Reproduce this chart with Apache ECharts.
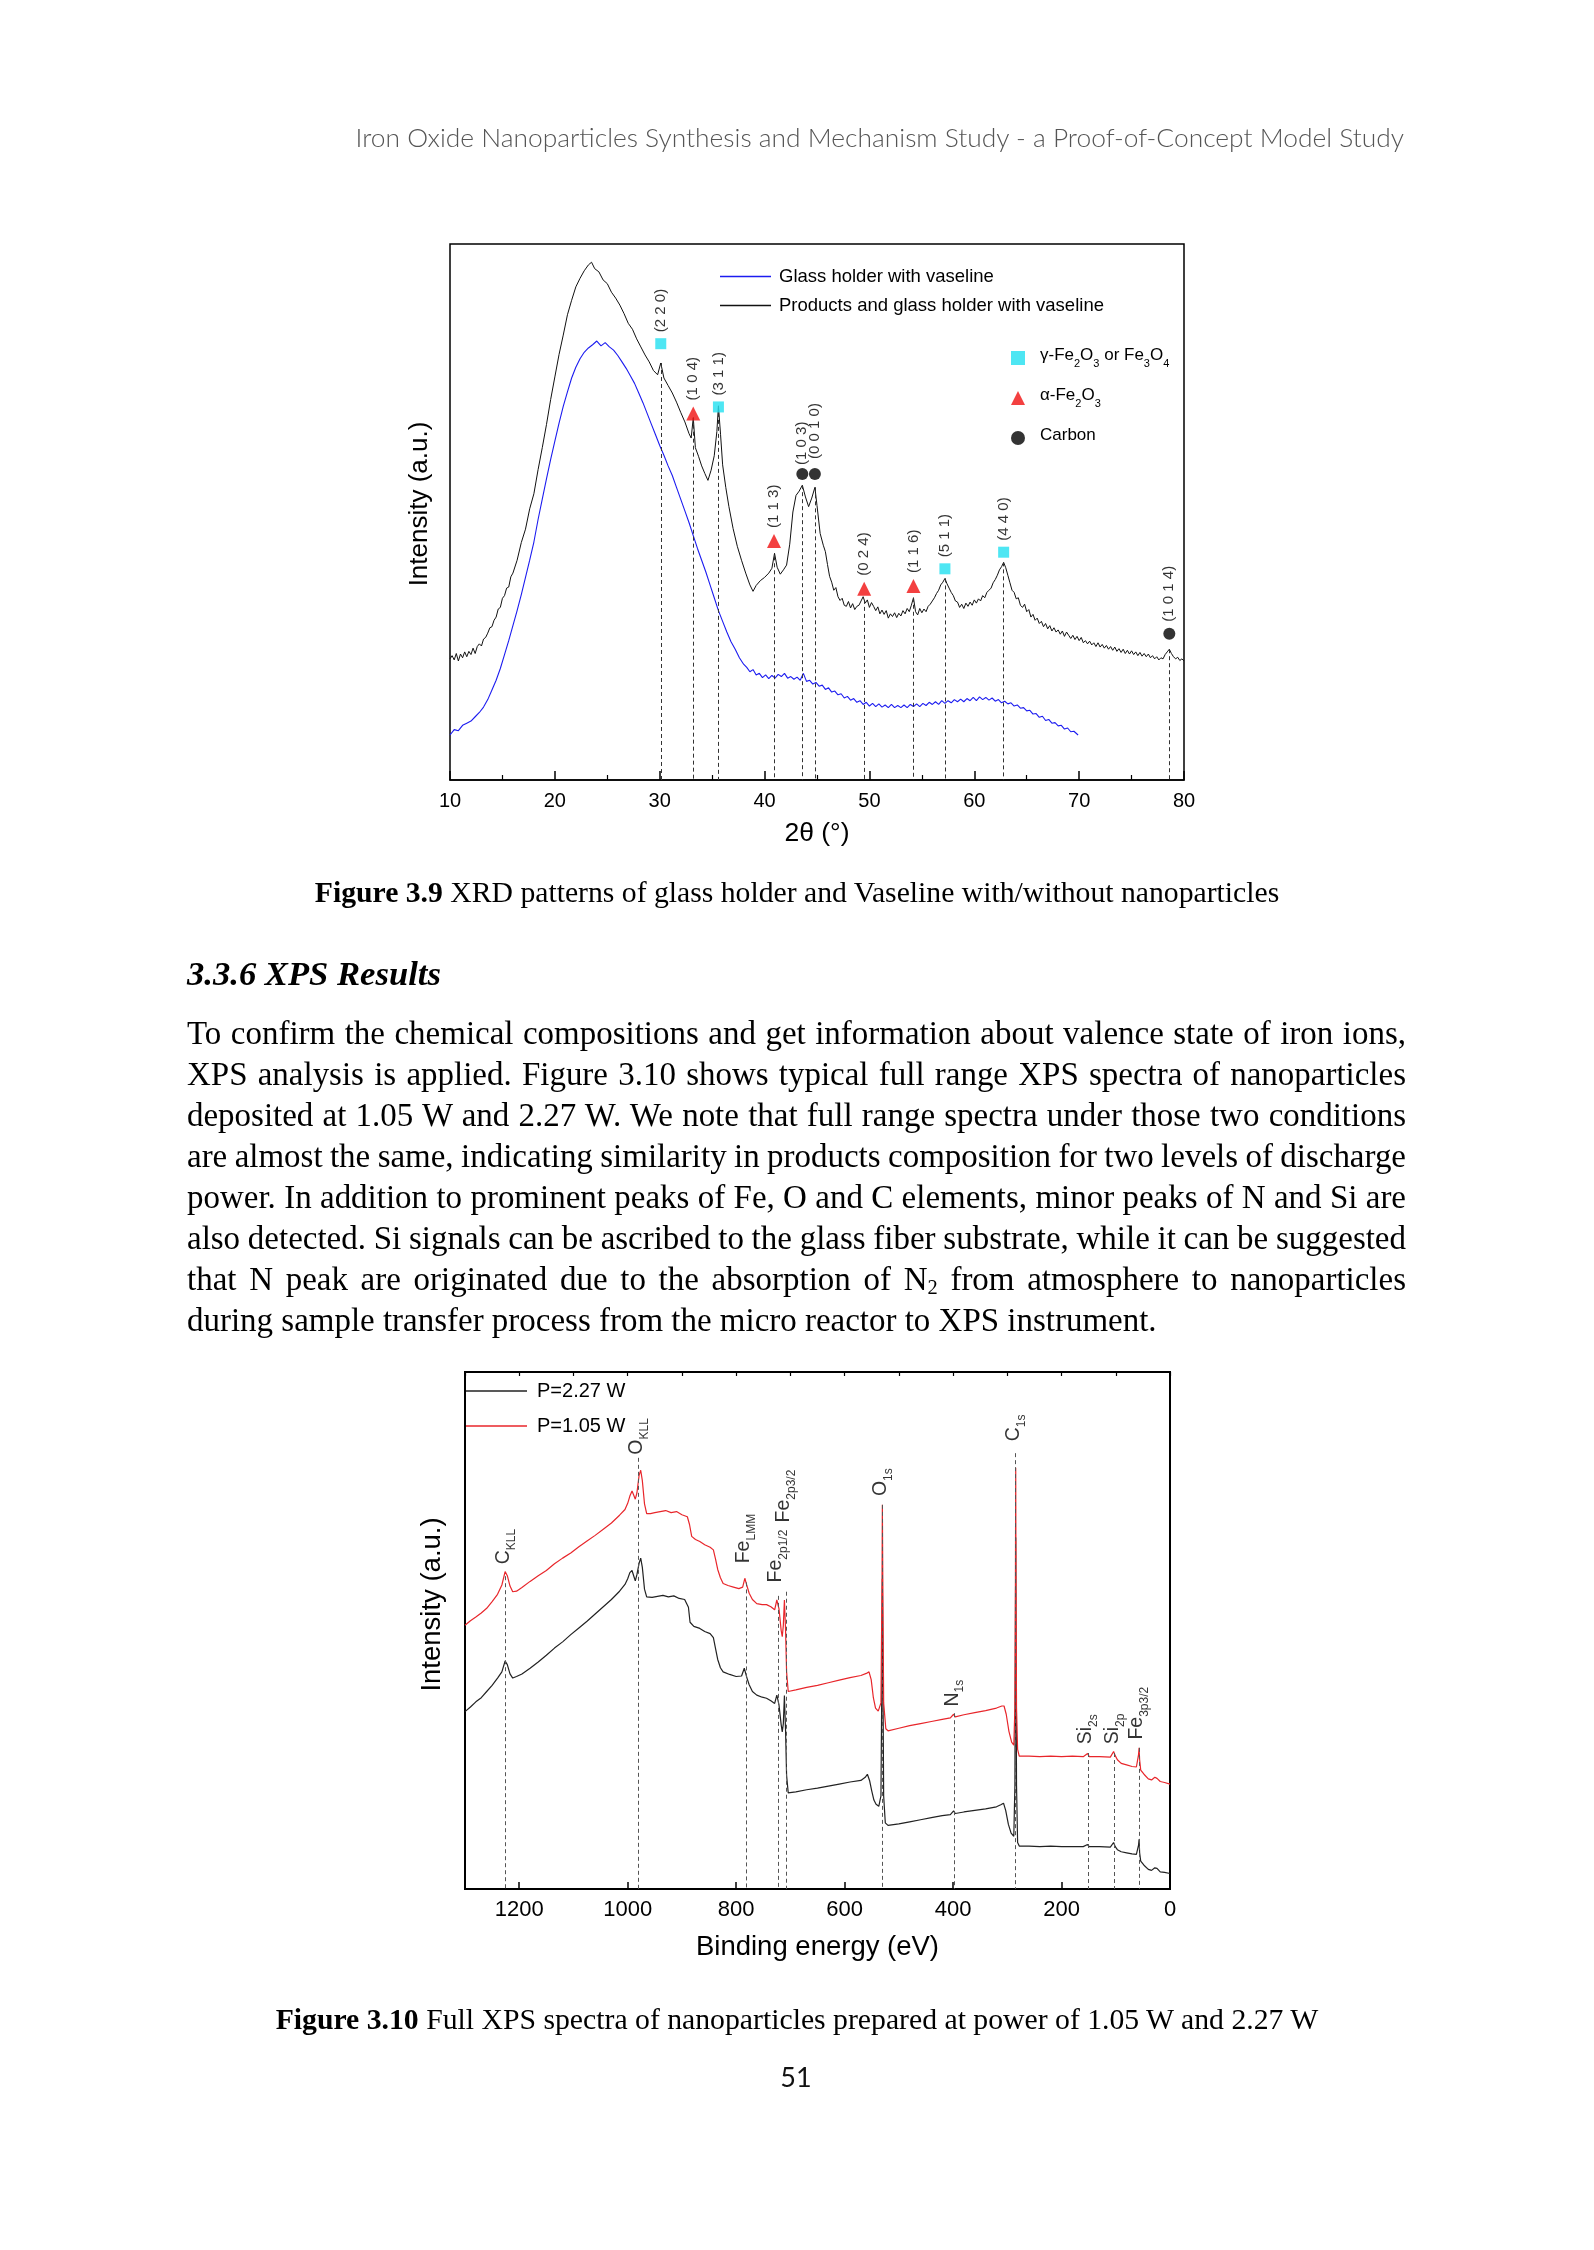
<!DOCTYPE html>
<html><head><meta charset="utf-8">
<script src="https://cdn.jsdelivr.net/npm/echarts@6/dist/echarts.min.js"></script>
<style>
html,body{margin:0;padding:0;background:#fff;}
#page{position:relative;width:1594px;height:2250px;overflow:hidden;background:#fff;}
#chart{position:absolute;left:0;top:0;width:1594px;height:2250px;}
.t{position:absolute;white-space:nowrap;line-height:1;display:inline-block;}
.serif{font-family:"Liberation Serif","Times New Roman",serif;color:#000;}
.bm{display:inline-block;width:0;height:0;vertical-align:baseline;}
sub{font-size:0.62em;vertical-align:-0.22em;line-height:0;}
</style></head>
<body><div id="page">
<div id="chart"></div>
<div class="t" id="hdr" style="font-family:Lato,'Open Sans',sans-serif;font-weight:300;color:#555;font-size:23px;">Iron Oxide Nanoparticles Synthesis and Mechanism Study - a Proof-of-Concept Model Study</div>
<div class="t serif" id="cap1" style="font-size:28px;"><b>Figure 3.9</b> XRD patterns of glass holder and Vaseline with/without nanoparticles</div>
<div class="t serif" id="head" style="font-size:32px;font-weight:bold;font-style:italic;">3.3.6 XPS Results</div>
<div class="t serif pl" style="font-size:28px;">To confirm the chemical compositions and get information about valence state of iron ions,</div>
<div class="t serif pl" style="font-size:28px;">XPS analysis is applied. Figure 3.10 shows typical full range XPS spectra of nanoparticles</div>
<div class="t serif pl" style="font-size:28px;">deposited at 1.05 W and 2.27 W. We note that full range spectra under those two conditions</div>
<div class="t serif pl" style="font-size:28px;">are almost the same, indicating similarity in products composition for two levels of discharge</div>
<div class="t serif pl" style="font-size:28px;">power. In addition to prominent peaks of Fe, O and C elements, minor peaks of N and Si are</div>
<div class="t serif pl" style="font-size:28px;">also detected. Si signals can be ascribed to the glass fiber substrate, while it can be suggested</div>
<div class="t serif pl" style="font-size:28px;">that N peak are originated due to the absorption of N<sub>2</sub> from atmosphere to nanoparticles</div>
<div class="t serif pl" style="font-size:28px;">during sample transfer process from the micro reactor to XPS instrument.</div>
<div class="t serif" id="cap2" style="font-size:28px;"><b>Figure 3.10</b> Full XPS spectra of nanoparticles prepared at power of 1.05 W and 2.27 W</div>
<div class="t" id="pnum" style="font-family:Lato,'Open Sans',sans-serif;font-size:27px;color:#111;">51</div>
</div>
<script>
// ---------------- XRD data (2θ in degrees, intensity a.u.) ----------------
const xrdGlass = [[10.0,8.4],[10.4,9.4],[10.8,9.2],[11.2,10.2],[11.6,10.6],[12.0,11.0],[12.4,11.8],[12.8,12.6],[13.2,13.6],[13.6,15.0],[14.0,16.8],[14.4,18.6],[14.8,20.8],[15.2,23.4],[15.6,26.0],[16.0,28.8],[16.4,31.6],[16.8,34.6],[17.2,37.8],[17.6,41.0],[18.0,44.4],[18.4,48.6],[18.8,52.4],[19.2,56.2],[19.6,59.8],[20.0,63.2],[20.4,66.6],[20.8,69.7],[21.2,72.4],[21.6,75.0],[22.0,77.0],[22.4,78.6],[22.8,79.8],[23.2,80.6],[23.6,81.2],[24.0,81.9],[24.4,81.0],[24.8,81.6],[25.2,80.8],[25.6,80.2],[26.0,79.2],[26.4,78.0],[26.8,76.8],[27.2,75.4],[27.6,74.0],[28.0,72.2],[28.4,70.4],[28.8,68.4],[29.2,66.4],[29.6,64.4],[30.0,62.4],[30.4,60.6],[30.8,58.6],[31.2,56.8],[31.6,54.6],[32.0,52.4],[32.4,50.2],[32.8,48.0],[33.2,45.6],[33.6,43.2],[34.0,41.0],[34.4,38.8],[34.8,36.4],[35.2,34.0],[35.6,31.6],[36.0,29.6],[36.4,27.6],[36.8,25.8],[37.2,24.4],[37.6,22.8],[38.0,21.6],[38.3,21.0],[38.6,20.2],[38.9,20.6],[39.2,19.6],[39.5,19.9],[39.8,19.1],[40.1,19.6],[40.4,18.9],[40.7,19.5],[41.0,19.0],[41.3,19.7],[41.6,19.3],[41.9,19.9],[42.2,19.0],[42.5,19.3],[42.8,18.8],[43.1,19.2],[43.4,18.6],[43.7,19.9],[44.0,18.4],[44.3,18.6],[44.6,17.9],[44.9,18.2],[45.2,17.5],[45.5,17.7],[45.8,16.9],[46.1,17.2],[46.4,16.4],[46.7,16.6],[47.0,15.9],[47.3,16.1],[47.6,15.3],[47.9,15.6],[48.2,14.9],[48.5,15.2],[48.8,14.5],[49.1,14.8],[49.4,14.1],[49.7,14.5],[50.0,13.8],[50.3,14.3],[50.6,13.7],[50.9,14.2],[51.2,13.6],[51.5,14.0],[51.8,13.5],[52.1,14.1],[52.4,13.5],[52.7,13.9],[53.0,13.5],[53.3,14.0],[53.6,13.5],[53.9,14.1],[54.2,13.7],[54.5,14.2],[54.8,13.7],[55.1,14.3],[55.4,13.9],[55.7,14.5],[56.0,14.1],[56.3,14.6],[56.6,14.1],[56.9,14.8],[57.2,14.3],[57.5,14.8],[57.8,14.4],[58.1,15.0],[58.4,14.6],[58.7,15.1],[59.0,14.6],[59.3,15.2],[59.6,14.8],[59.9,15.4],[60.2,14.8],[60.5,15.5],[60.8,15.0],[61.1,15.4],[61.4,14.9],[61.7,15.3],[62.0,14.7],[62.3,15.0],[62.6,14.4],[62.9,14.7],[63.2,14.2],[63.5,14.4],[63.8,13.8],[64.1,14.0],[64.4,13.4],[64.7,13.5],[65.0,12.9],[65.3,13.0],[65.6,12.3],[65.9,12.4],[66.2,11.7],[66.5,11.9],[66.8,11.1],[67.1,11.3],[67.4,10.6],[67.7,10.7],[68.0,10.1],[68.3,10.2],[68.6,9.5],[68.9,9.7],[69.2,9.0],[69.5,9.1],[69.9,8.4]];
const xrdProducts = [[10.0,22.6],[10.2,23.2],[10.4,22.4],[10.6,23.6],[10.8,22.2],[11.0,23.5],[11.2,22.8],[11.4,23.9],[11.6,23.0],[11.8,24.0],[12.0,23.4],[12.2,24.6],[12.4,23.6],[12.6,24.9],[12.8,25.4],[13.0,25.0],[13.2,26.3],[13.4,26.6],[13.6,27.4],[13.8,28.4],[14.0,28.6],[14.2,29.8],[14.4,30.4],[14.6,31.9],[14.8,32.2],[15.0,33.9],[15.2,34.4],[15.4,35.8],[15.6,36.0],[15.8,37.9],[16.0,38.6],[16.4,41.0],[16.8,44.3],[17.2,46.8],[17.6,50.6],[18.0,53.4],[18.4,57.9],[18.8,62.0],[19.2,66.3],[19.6,71.0],[20.0,75.2],[20.4,79.4],[20.8,83.0],[21.2,86.8],[21.6,89.5],[22.0,92.0],[22.4,93.6],[22.8,95.0],[23.2,96.1],[23.5,96.6],[23.8,95.4],[24.2,94.8],[24.6,93.3],[25.0,92.6],[25.4,91.0],[25.8,89.9],[26.2,88.6],[26.6,87.0],[27.0,85.2],[27.4,84.1],[27.8,82.3],[28.2,80.8],[28.6,79.3],[29.0,78.0],[29.4,76.4],[29.8,75.6],[30.1,77.8],[30.4,75.0],[30.8,73.6],[31.2,72.2],[31.6,70.5],[32.0,68.6],[32.4,66.8],[32.8,64.6],[33.0,63.8],[33.2,67.6],[33.4,62.0],[33.7,60.4],[34.0,58.6],[34.3,57.2],[34.6,55.9],[34.9,57.8],[35.2,60.5],[35.45,65.0],[35.6,69.8],[35.8,64.5],[36.0,58.8],[36.3,54.6],[36.6,51.0],[37.0,46.9],[37.4,43.6],[37.8,41.0],[38.2,38.6],[38.6,36.4],[38.9,35.2],[39.2,36.3],[39.6,37.2],[40.0,37.8],[40.4,38.6],[40.7,39.5],[40.95,42.3],[41.2,39.7],[41.5,38.4],[41.8,39.2],[42.1,40.1],[42.4,44.0],[42.7,50.0],[43.0,53.1],[43.3,53.9],[43.6,55.0],[43.9,52.8],[44.2,51.0],[44.5,52.6],[44.8,54.6],[45.0,51.2],[45.3,46.0],[45.6,43.8],[45.8,42.6],[46.0,40.2],[46.2,38.0],[46.4,36.9],[46.6,35.4],[46.8,35.9],[47.0,34.2],[47.2,33.5],[47.4,33.9],[47.6,32.6],[47.8,32.4],[48.0,33.3],[48.2,32.1],[48.4,32.9],[48.6,31.8],[48.8,32.4],[49.0,32.6],[49.2,33.4],[49.4,34.2],[49.6,33.0],[49.8,33.6],[50.0,32.2],[50.2,33.1],[50.4,32.4],[50.6,31.6],[50.8,32.3],[51.0,31.0],[51.2,31.7],[51.4,30.9],[51.6,31.6],[51.8,30.2],[52.0,31.0],[52.2,30.5],[52.4,31.2],[52.6,30.3],[52.8,31.1],[53.0,30.6],[53.2,31.6],[53.4,31.0],[53.6,32.0],[53.8,31.4],[54.0,32.6],[54.2,34.0],[54.4,31.4],[54.6,30.8],[54.8,32.0],[55.0,31.2],[55.2,31.9],[55.4,31.4],[55.6,32.4],[55.8,32.8],[56.0,33.4],[56.2,34.0],[56.4,34.8],[56.6,35.4],[56.8,36.4],[57.0,36.9],[57.2,37.6],[57.4,36.6],[57.6,35.8],[57.8,35.0],[58.0,34.4],[58.2,33.4],[58.4,33.2],[58.6,32.2],[58.8,32.8],[59.0,32.0],[59.2,33.0],[59.4,32.4],[59.6,33.2],[59.8,32.6],[60.0,33.6],[60.2,33.0],[60.4,33.8],[60.6,33.4],[60.8,34.4],[61.0,34.0],[61.2,35.0],[61.4,35.4],[61.6,35.8],[61.8,36.8],[62.0,37.4],[62.2,38.2],[62.4,39.2],[62.6,39.8],[62.8,40.6],[63.0,39.6],[63.2,38.2],[63.4,36.8],[63.6,35.4],[63.8,35.0],[64.0,33.8],[64.2,34.0],[64.4,32.6],[64.6,32.2],[64.8,32.8],[65.0,31.4],[65.2,31.8],[65.4,30.4],[65.6,30.9],[65.8,29.8],[66.0,30.2],[66.2,29.2],[66.4,29.6],[66.6,28.6],[66.8,29.2],[67.0,28.2],[67.2,28.8],[67.4,27.8],[67.6,28.4],[67.8,27.6],[68.0,28.0],[68.2,27.2],[68.4,27.8],[68.6,26.8],[68.8,27.6],[69.0,27.0],[69.2,26.4],[69.4,27.0],[69.6,26.2],[69.8,26.8],[70.0,26.0],[70.2,26.6],[70.4,25.6],[70.6,26.0],[70.8,25.4],[71.0,25.9],[71.2,25.2],[71.4,25.6],[71.6,24.9],[71.8,25.6],[72.0,24.8],[72.2,25.3],[72.4,24.6],[72.6,25.1],[72.8,24.4],[73.0,24.9],[73.2,24.2],[73.4,24.8],[73.6,24.0],[73.8,24.5],[74.0,23.8],[74.2,24.4],[74.4,23.6],[74.6,24.2],[74.8,23.5],[75.0,24.1],[75.2,23.4],[75.4,23.9],[75.6,23.2],[75.8,23.8],[76.0,23.1],[76.2,23.6],[76.4,23.0],[76.6,23.5],[76.8,22.8],[77.0,23.2],[77.2,22.6],[77.4,23.0],[77.6,22.4],[77.8,22.8],[78.0,22.6],[78.2,23.4],[78.4,23.9],[78.6,24.4],[78.8,23.6],[79.0,23.0],[79.2,22.6],[79.4,22.9],[79.6,22.3],[79.8,22.6],[80.0,22.2]];
// phase markers
const gammaX = [30.1, 35.6, 57.2, 62.8];
const gammaY = [81.4, 69.6, 39.4, 42.5];
const gammaHkl = ['(2 2 0)', '(3 1 1)', '(5 1 1)', '(4 4 0)'];
const alphaX = [33.2, 40.9, 49.5, 54.2];
const alphaY = [68.4, 44.6, 35.7, 36.2];
const alphaHkl = ['(1 0 4)', '(1 1 3)', '(0 2 4)', '(1 1 6)'];
const carbonX = [43.6, 44.8, 78.6];
const carbonY = [57.1, 57.1, 27.3];
const carbonHkl = ['(1 0 3)', '(0 0 1 0)', '(1 0 1 4)'];
const xrdSeriesNames = ['Glass holder with vaseline', 'Products and glass holder with vaseline'];
const phaseNames = ['γ-Fe2O3 or Fe3O4', 'α-Fe2O3', 'Carbon'];
const phaseRich = ['{n|γ-Fe}{s|2}{n|O}{s|3}{n| or Fe}{s|3}{n|O}{s|4}', '{n|α-Fe}{s|2}{n|O}{s|3}', '{n|Carbon}'];

// ---------------- XPS data (binding energy eV, intensity a.u.) ----------------
const xpsP105 = [[1300,51.0],[1290,51.9],[1280,52.6],[1270,53.4],[1260,54.3],[1250,55.6],[1240,57.0],[1232,58.8],[1226,61.4],[1222,60.6],[1217,58.6],[1212,57.5],[1205,57.6],[1195,58.3],[1180,59.5],[1165,60.6],[1150,61.6],[1135,62.9],[1120,64.0],[1105,65.0],[1090,66.2],[1075,67.3],[1060,68.4],[1045,69.6],[1030,70.8],[1015,72.3],[1005,73.4],[1000,74.6],[996,76.0],[992,77.0],[989,76.2],[986,75.4],[983,76.6],[979,80.0],[976,81.0],[973,79.0],[969,74.5],[965,72.6],[958,72.6],[950,72.8],[940,73.0],[930,73.2],[920,72.8],[910,73.0],[900,72.4],[890,72.0],[886,70.5],[882,68.2],[875,67.6],[867,67.2],[858,66.6],[848,66.1],[842,65.6],[838,63.8],[834,61.8],[829,60.2],[824,59.1],[815,58.7],[805,58.4],[795,58.1],[788,58.4],[784,60.1],[780,58.6],[776,57.2],[770,56.0],[762,55.2],[752,55.0],[744,55.0],[736,54.6],[729,54.0],[725,55.9],[721,54.2],[717,50.0],[715,48.8],[713,51.0],[711,55.9],[709,50.5],[707,42.0],[704,38.2],[690,38.5],[670,39.0],[650,39.4],[630,39.9],[610,40.4],[590,40.9],[570,41.3],[560,41.7],[555,42.0],[551,40.5],[547,37.0],[543,35.0],[538,34.4],[533,36.0],[531,60.0],[530.4,74.3],[529.6,60.0],[528,36.0],[524,31.0],[520,30.6],[500,31.1],[480,31.6],[460,32.0],[440,32.4],[420,32.8],[405,33.1],[399,33.8],[396,33.3],[380,33.7],[360,34.1],[340,34.5],[320,35.0],[310,35.4],[306,35.4],[302,33.8],[297,30.5],[292,28.4],[288,27.8],[286,35.0],[285,60.0],[284.5,81.5],[284,60.0],[283,35.0],[281,27.0],[278,25.7],[260,25.7],[240,25.6],[220,25.7],[200,25.6],[180,25.7],[160,25.6],[152,26.2],[149,25.6],[130,25.6],[110,25.5],[104,26.6],[101,25.8],[97,25.0],[90,24.3],[80,24.0],[70,23.7],[62,23.6],[58,26.0],[57,27.3],[56,25.0],[54,23.0],[48,22.2],[40,21.3],[34,21.1],[28,21.6],[24,21.4],[18,20.8],[10,20.6],[0,20.3]];
const xpsP227 = [[1300,34.3],[1290,35.2],[1280,36.2],[1270,37.0],[1260,38.2],[1250,39.4],[1240,40.8],[1232,42.0],[1226,44.1],[1222,43.4],[1217,41.6],[1212,40.8],[1205,41.1],[1195,41.6],[1180,42.7],[1165,43.9],[1150,45.2],[1135,46.6],[1120,47.8],[1105,49.2],[1090,50.5],[1075,51.8],[1060,53.2],[1045,54.6],[1030,56.0],[1015,57.6],[1005,58.9],[1000,60.0],[996,61.2],[992,61.6],[989,60.6],[986,59.6],[983,60.8],[979,63.0],[976,64.0],[973,62.2],[969,58.0],[965,56.5],[955,56.4],[945,56.6],[935,56.8],[925,56.5],[915,56.7],[905,56.2],[895,56.0],[888,54.5],[885,51.6],[878,50.8],[867,50.4],[858,49.8],[848,49.4],[842,48.6],[838,46.5],[834,44.4],[829,42.8],[824,42.0],[812,41.5],[800,41.1],[790,41.2],[785,42.7],[780,40.8],[776,39.5],[770,38.2],[762,37.5],[752,37.1],[744,36.9],[736,36.4],[729,35.9],[725,37.5],[721,35.6],[717,31.8],[715,30.4],[713,32.0],[711,37.4],[709,31.0],[707,22.0],[704,18.6],[690,18.8],[670,19.2],[650,19.5],[630,19.9],[610,20.3],[590,20.7],[570,21.0],[562,21.6],[558,22.2],[554,21.0],[550,19.0],[546,17.2],[542,16.4],[537,16.0],[533,18.0],[531,45.0],[530.4,60.0],[529.6,45.0],[528,18.0],[525,12.8],[520,12.3],[500,12.6],[480,13.0],[460,13.4],[440,13.8],[420,14.2],[405,14.4],[399,15.1],[396,14.6],[380,14.9],[360,15.2],[340,15.5],[320,15.9],[312,16.3],[307,16.6],[303,15.2],[298,12.5],[293,10.8],[288,10.2],[286,20.0],[285,50.0],[284.5,68.0],[284,50.0],[283,20.0],[281,9.0],[278,8.3],[260,8.3],[240,8.2],[220,8.3],[200,8.2],[180,8.2],[160,8.2],[152,8.6],[149,8.2],[130,8.2],[110,8.1],[104,9.0],[101,8.2],[97,7.6],[90,7.2],[80,7.0],[70,6.8],[62,6.7],[58,8.5],[57,9.6],[56,7.0],[54,5.4],[48,4.6],[40,3.8],[34,3.6],[28,4.1],[24,4.0],[18,3.3],[10,3.2],[0,3.0]];
const xpsSeriesNames = ['P=2.27 W', 'P=1.05 W'];
const xpsPeakBE = [1225, 980, 782, 723, 708.5, 530.4, 398, 284.6, 151, 102.5, 57];
const xpsMain = ['C', 'O', 'Fe', 'Fe', 'Fe', 'O', 'N', 'C', 'Si', 'Si', 'Fe'];
const xpsSub = ['KLL', 'KLL', 'LMM', '2p1/2', '2p3/2', '1s', '1s', '1s', '2s', '2p', '3p3/2'];
const xpsLabelY = [62.8, 84.0, 63.0, 59.3, 70.9, 76.0, 35.3, 86.6, 28.0, 28.0, 28.9];
const xpsLineTop = [60.5, 83.4, 59.3, 56.7, 57.5, 74.3, 34.0, 84.3, 26.3, 26.3, 27.3];

// ---------------- chart ----------------
const FONT = '"Liberation Sans", Arial, Helvetica, sans-serif';
function interp(data, x) {
  for (let i = 0; i < data.length - 1; i++) {
    const a = data[i], b = data[i + 1];
    if ((a[0] - x) * (b[0] - x) <= 0) {
      const t = (x - a[0]) / ((b[0] - a[0]) || 1);
      return a[1] + t * (b[1] - a[1]);
    }
  }
  return 0;
}
const dashStyle = {type: [4, 3], color: '#333', width: 1};
function phaseSeries(name, xs, ys, hkls, symbol, size, color, offsets) {
  return {
    type: 'scatter', name: name, xAxisIndex: 0, yAxisIndex: 0,
    symbol: symbol, symbolSize: size, itemStyle: {color: color}, z: 5, silent: true,
    data: xs.map((x, i) => ({value: [x, ys[i]], label: {offset: [offsets ? offsets[i] : 0, 0]}})),
    label: {show: true, position: 'top', distance: 6, rotate: 90, align: 'left', verticalAlign: 'middle',
      formatter: p => hkls[p.dataIndex], fontSize: 15, color: '#000', fontFamily: FONT},
    markLine: {silent: true, symbol: ['none', 'none'], label: {show: false}, lineStyle: dashStyle,
      data: xs.map(x => [{coord: [x, interp(xrdProducts, x)]}, {coord: [x, 0]}])}
  };
}
const chart = echarts.init(document.getElementById('chart'), null, {renderer: 'canvas'});
const subRich = {
  m: {fontSize: 19.5, fontFamily: FONT, color: '#000', lineHeight: 24, verticalAlign: 'top'},
  s: {fontSize: 12, fontFamily: FONT, color: '#000', lineHeight: 12, verticalAlign: 'bottom'}
};
const option = {
  animation: false,
  backgroundColor: 'transparent',
  textStyle: {fontFamily: FONT},
  grid: [
    {left: 450, top: 244, width: 734, height: 536, show: true, borderColor: '#000', borderWidth: 1.5, backgroundColor: 'transparent'},
    {left: 465, top: 1372, width: 705, height: 517, show: true, borderColor: '#000', borderWidth: 2, backgroundColor: 'transparent'}
  ],
  xAxis: [
    {gridIndex: 0, type: 'value', min: 10, max: 80, interval: 10,
      axisLine: {lineStyle: {color: '#000', width: 1.5}},
      axisTick: {inside: true, length: 9, lineStyle: {color: '#000', width: 1.5}},
      minorTick: {show: true, splitNumber: 2, length: 5, lineStyle: {color: '#000', width: 1.2}},
      splitLine: {show: false}, minorSplitLine: {show: false},
      axisLabel: {fontSize: 20, color: '#000', margin: 11, fontFamily: FONT, formatter: v => String(v)},
      name: '2θ (°)', nameLocation: 'middle', nameGap: 40, nameTextStyle: {fontSize: 26.5, color: '#000', fontFamily: FONT}},
    {gridIndex: 1, type: 'value', min: 0, max: 1300, interval: 200, inverse: true,
      axisLine: {lineStyle: {color: '#000', width: 2}},
      axisTick: {inside: true, length: 7, lineStyle: {color: '#000', width: 1.5}},
      splitLine: {show: false},
      axisLabel: {fontSize: 22, color: '#000', margin: 10, fontFamily: FONT, showMaxLabel: false, formatter: v => String(v)},
      name: 'Binding energy (eV)', nameLocation: 'middle', nameGap: 44, nameTextStyle: {fontSize: 27.5, color: '#000', fontFamily: FONT}},
    {gridIndex: 1, type: 'value', min: 0, max: 1300, interval: 100, inverse: true,
      axisLine: {show: false}, axisLabel: {show: false}, splitLine: {show: false},
      axisTick: {inside: true, length: 4, lineStyle: {color: '#000', width: 1.2}}}
  ],
  yAxis: [
    {gridIndex: 0, type: 'value', min: 0, max: 100, axisLine: {show: false}, axisTick: {show: false},
      axisLabel: {show: false}, splitLine: {show: false},
      name: 'Intensity (a.u.)', nameLocation: 'middle', nameRotate: 90, nameGap: 17,
      nameTextStyle: {fontSize: 26, color: '#000', fontFamily: FONT, padding: [0, 0, 0, 16]}},
    {gridIndex: 1, type: 'value', min: 0, max: 100, axisLine: {show: false}, axisTick: {show: false},
      axisLabel: {show: false}, splitLine: {show: false},
      name: 'Intensity (a.u.)', nameLocation: 'middle', nameRotate: 90, nameGap: 19,
      nameTextStyle: {fontSize: 27.5, color: '#000', fontFamily: FONT, padding: [0, 0, 0, 52]}}
  ],
  legend: [
    {data: xrdSeriesNames.map(n => ({name: n, icon: 'rect'})), orient: 'vertical', left: 720, top: 267, padding: 0,
      itemWidth: 51, itemHeight: 1.4, itemGap: 10,
      selectedMode: false, textStyle: {fontSize: 18.5, lineHeight: 14, color: '#000', fontFamily: FONT, padding: [0, 0, 0, 3]}},
    {data: [{name: phaseNames[0], icon: 'rect'}, {name: phaseNames[1], icon: 'triangle'}, {name: phaseNames[2], icon: 'circle'}],
      orient: 'vertical', left: 1011, top: 347, padding: 0, itemWidth: 14, itemHeight: 14, itemGap: 18, selectedMode: false,
      formatter: name => phaseRich[phaseNames.indexOf(name)],
      textStyle: {color: '#000', fontFamily: FONT, padding: [0, 0, 0, 10], rich: {
        n: {fontSize: 17, fontFamily: FONT, color: '#000', lineHeight: 22, verticalAlign: 'top'},
        s: {fontSize: 11, fontFamily: FONT, color: '#000', lineHeight: 11, verticalAlign: 'bottom'}}}},
    {data: xpsSeriesNames.map(n => ({name: n, icon: 'rect'})), orient: 'vertical', left: 466, top: 1381, padding: 0,
      itemWidth: 61, itemHeight: 1.4, itemGap: 15,
      selectedMode: false, textStyle: {fontSize: 20, lineHeight: 14, color: '#000', fontFamily: FONT, padding: [0, 0, 0, 5]}}
  ],
  series: [
    {type: 'line', name: xrdSeriesNames[0], xAxisIndex: 0, yAxisIndex: 0, data: xrdGlass, symbol: 'none', showSymbol: false,
      lineStyle: {color: '#1c1cf0', width: 1.1}, itemStyle: {color: '#1c1cf0'}, z: 2},
    {type: 'line', name: xrdSeriesNames[1], xAxisIndex: 0, yAxisIndex: 0, data: xrdProducts, symbol: 'none', showSymbol: false,
      lineStyle: {color: '#111', width: 1}, itemStyle: {color: '#111'}, z: 3},
    phaseSeries(phaseNames[0], gammaX, gammaY, gammaHkl, 'rect', 11, '#22e0f0'),
    phaseSeries(phaseNames[1], alphaX, alphaY, alphaHkl, 'triangle', 14, '#f01010'),
    phaseSeries(phaseNames[2], carbonX, carbonY, carbonHkl, 'circle', 12, '#000', [-3, 3, 0]),
    {type: 'line', name: xpsSeriesNames[0], xAxisIndex: 1, yAxisIndex: 1, data: xpsP227, symbol: 'none', showSymbol: false,
      lineStyle: {color: '#222', width: 1.2}, itemStyle: {color: '#222'}, z: 3},
    {type: 'line', name: xpsSeriesNames[1], xAxisIndex: 1, yAxisIndex: 1, data: xpsP105, symbol: 'none', showSymbol: false,
      lineStyle: {color: '#e8262b', width: 1.2}, itemStyle: {color: '#e8262b'}, z: 4},
    {type: 'scatter', name: 'peaks', xAxisIndex: 1, yAxisIndex: 1, symbolSize: 0, silent: true, z: 6,
      data: xpsPeakBE.map((b, i) => [b, xpsLabelY[i]]),
      label: {show: true, position: 'top', distance: 0, rotate: 90, align: 'left', verticalAlign: 'middle',
        formatter: p => '{m|' + xpsMain[p.dataIndex] + '}{s|' + xpsSub[p.dataIndex] + '}', rich: subRich},
      markLine: {silent: true, symbol: ['none', 'none'], label: {show: false}, lineStyle: {type: [4, 3], color: '#555', width: 1},
        data: xpsPeakBE.map((b, i) => [{coord: [b, xpsLineTop[i]]}, {coord: [b, 0]}])}}
  ]
};
chart.setOption(option);

// ---------------- page text layout ----------------
function baselineOf(el) {
  const m = document.createElement('span'); m.className = 'bm'; el.appendChild(m);
  const y = m.getBoundingClientRect().top; el.removeChild(m); return y;
}
function fitWidth(el, w) {
  const fs = parseFloat(el.style.fontSize);
  const cw = el.getBoundingClientRect().width;
  el.style.fontSize = (fs * w / cw) + 'px';
}
function placeText(el, x, baseline, mode) {
  el.style.left = '0px'; el.style.top = '0px';
  const r = el.getBoundingClientRect();
  const b = baselineOf(el);
  let left = x;
  if (mode === 'center') left = x - r.width / 2;
  if (mode === 'right') left = x - r.width;
  el.style.left = left + 'px';
  el.style.top = (baseline - (b - r.top)) + 'px';
}
const hdr = document.getElementById('hdr'); fitWidth(hdr, 1049); placeText(hdr, 1404, 147, 'right');
const cap1 = document.getElementById('cap1'); fitWidth(cap1, 965); placeText(cap1, 797, 902, 'center');
const head = document.getElementById('head'); fitWidth(head, 254); placeText(head, 187, 985, 'left');
const cap2 = document.getElementById('cap2'); fitWidth(cap2, 1043); placeText(cap2, 797, 2028.5, 'center');
const pnum = document.getElementById('pnum'); placeText(pnum, 796, 2086.5, 'center');
const lines = Array.from(document.querySelectorAll('.pl'));
fitWidth(lines[7], 970);
const pfs = lines[7].style.fontSize;
lines.forEach((el, i) => {
  el.style.fontSize = pfs;
  if (i < 7) {
    const w = el.getBoundingClientRect().width;
    const spaces = (el.textContent.match(/ /g) || []).length;
    el.style.wordSpacing = ((1219 - w) / spaces) + 'px';
  }
  placeText(el, 187, 1044.3 + i * 40.95, 'left');
});
</script>
</body></html>
